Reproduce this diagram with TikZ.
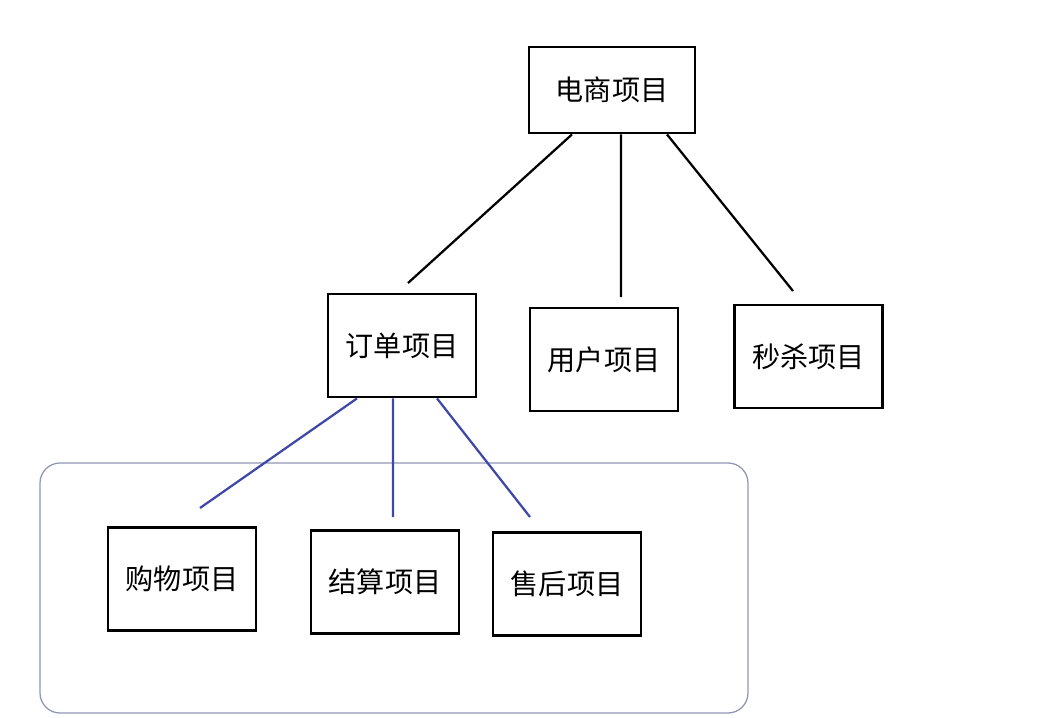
\documentclass[tikz,border=0pt]{standalone}
\usepackage{fontspec}
\newfontfamily\cjk{Noto Sans CJK SC}
\usetikzlibrary{positioning}
\definecolor{linkblue}{RGB}{62,72,168}
\definecolor{framegray}{RGB}{145,150,178}
\tikzset{
  proj/.style={draw, line width=2pt, inner sep=0pt, minimum width=3.7cm, minimum height=2.575cm, font=\cjk\fontsize{20}{24}\selectfont},
  link/.style={line width=1.6pt},
}

\begin{document}
\begin{tikzpicture}[x=0.025cm, y=-0.025cm]
    \useasboundingbox (0,0) rectangle (1042,718);
    \draw [framegray, line width=0.9pt, rounded corners=0.5cm](40,463) rectangle (748,713);%グループ枠

    \node[proj, minimum width=4.15cm, minimum height=2.15cm](top)at(612,90){电商项目};
    \node[proj](order)at(402,345.5){订单项目};
    \node[proj](user)at(604,359.5){用户项目};
    \node[proj](flash)at(808.5,356.5){秒杀项目};
    \node[proj](cart)at(182,579){购物项目};
    \node[proj](pay)at(385,582){结算项目};
    \node[proj](after)at(567,584){售后项目};

    \coordinate(e1)at(408,283);%線の終点
    \coordinate(e2)at(621,297);
    \coordinate(e3)at(793,291);
    \coordinate(f1)at(200,508);
    \coordinate(f2)at(393,517);
    \coordinate(f3)at(530,517);

    \draw [link]([xshift=-1cm]top.south)--(e1);
    \draw [link]([xshift=0.225cm]top.south)--(e2);
    \draw [link]([xshift=1.375cm]top.south)--(e3);
    \foreach\D/\E in{-1.125/f1,-0.225/f2,0.875/f3}
      \draw [link, linkblue]([xshift=\D cm]order.south)--(\E);
\end{tikzpicture}
\end{document}
